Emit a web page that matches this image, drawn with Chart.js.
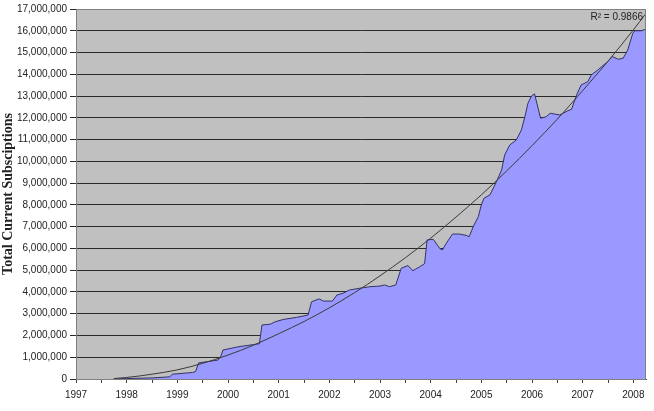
<!DOCTYPE html>
<html>
<head>
<meta charset="utf-8">
<script src="https://cdn.jsdelivr.net/npm/chart.js@4/dist/chart.umd.min.js"></script>
<style>
  html, body { margin: 0; padding: 0; background: #ffffff; }
  canvas { display: block; }
</style>
</head>
<body>
<canvas id="c" width="654" height="411"></canvas>
<script>
// ---- Data ----
const years = [
  1997.74, 1998.0, 1998.5, 1998.85, 1998.9, 1999.3, 1999.36, 1999.42, 1999.6, 1999.8,
  1999.86, 1999.9, 2000.2, 2000.5, 2000.62, 2000.67, 2000.84, 2000.93, 2001.1, 2001.35,
  2001.58, 2001.65, 2001.8, 2001.88, 2002.06, 2002.15, 2002.27, 2002.4, 2002.6, 2002.8,
  2003.0, 2003.09, 2003.19, 2003.31, 2003.42, 2003.55, 2003.65, 2003.78, 2003.88, 2003.93,
  2004.05, 2004.18, 2004.23, 2004.31, 2004.43, 2004.57, 2004.7, 2004.76, 2004.84, 2004.94,
  2005.0, 2005.05, 2005.17, 2005.3, 2005.4, 2005.46, 2005.56, 2005.69, 2005.79, 2005.86,
  2005.92, 2005.99, 2006.05, 2006.17, 2006.28, 2006.36, 2006.55, 2006.71, 2006.78, 2006.88,
  2006.97, 2007.1, 2007.17, 2007.3, 2007.47, 2007.59, 2007.7, 2007.8, 2007.89, 2007.99,
  2008.03, 2008.16, 2008.24
];
const subscriptions = [
  0, 20000, 50000, 100000, 220000, 300000, 340000, 740000, 800000, 870000,
  1050000, 1330000, 1480000, 1580000, 1620000, 2480000, 2520000, 2630000, 2740000, 2830000,
  2940000, 3550000, 3680000, 3580000, 3580000, 3860000, 3940000, 4090000, 4170000, 4240000,
  4270000, 4320000, 4240000, 4320000, 5090000, 5210000, 4980000, 5150000, 5300000, 6390000,
  6420000, 6000000, 5930000, 6240000, 6660000, 6660000, 6600000, 6540000, 7000000, 7460000,
  8000000, 8300000, 8460000, 9070000, 9600000, 10290000, 10750000, 10980000, 11440000, 12050000,
  12670000, 13000000, 13100000, 11980000, 12050000, 12210000, 12130000, 12330000, 12390000, 13050000,
  13510000, 13660000, 13970000, 14200000, 14540000, 14810000, 14690000, 14740000, 15120000, 15890000,
  16000000, 16000000, 16070000
];
// Trendline (R² = 0.9866)
const trendYears = [
  1997.75, 1998.0, 1998.5, 1999.0, 1999.5, 2000.0, 2000.5, 2001.0, 2001.5, 2002.0,
  2002.5, 2003.0, 2003.5, 2004.0, 2004.5, 2005.0, 2005.5, 2006.0, 2006.5, 2007.0,
  2007.5, 2008.0, 2008.25
];
const trendValues = [
  20000, 70000, 220000, 420000, 720000, 1100000, 1550000, 2080000, 2640000, 3270000,
  3970000, 4740000, 5570000, 6470000, 7440000, 8460000, 9560000, 10720000, 11940000, 13250000,
  14600000, 16040000, 16800000
];
const trendLabel = 'R\u00B2 = 0.9866';
const xTickValues = [
  1997, 1997.5, 1998, 1998.5, 1999, 1999.5, 2000, 2000.5, 2001, 2001.5, 2002, 2002.5,
  2003, 2003.5, 2004, 2004.5, 2005, 2005.5, 2006, 2006.5, 2007, 2007.5, 2008
];
const yAxisTitle = 'Total Current Subsciptions';

// ---- Build datasets ----
const subsPoints = years.map((x, i) => ({ x: x, y: subscriptions[i] }));
const trendPoints = trendYears.map((x, i) => ({ x: x, y: trendValues[i] }));

const plotBg = {
  id: 'plotBg',
  beforeDraw(chart) {
    const { ctx, chartArea: a } = chart;
    ctx.save();
    ctx.fillStyle = '#ffffff';
    ctx.fillRect(0, 0, chart.width, chart.height);
    ctx.fillStyle = '#C0C0C0';
    ctx.fillRect(a.left, a.top, a.right - a.left, a.bottom - a.top);
    ctx.restore();
  },
  afterDraw(chart) {
    const { ctx, chartArea: a } = chart;
    ctx.save();
    ctx.strokeStyle = '#808080';
    ctx.lineWidth = 1;
    ctx.strokeRect(a.left + 0.5, a.top + 0.5, a.right - a.left - 1, a.bottom - a.top);
    ctx.fillStyle = '#222222';
    ctx.font = '10px "Liberation Sans", Arial, sans-serif';
    ctx.textAlign = 'right';
    ctx.textBaseline = 'middle';
    ctx.fillText(trendLabel, a.right - 3, a.top + 8);
    ctx.restore();
  }
};

new Chart(document.getElementById('c'), {
  type: 'line',
  data: {
    datasets: [
      {
        label: 'Trend',
        data: trendPoints,
        borderColor: '#3a3a3a',
        borderWidth: 1,
        pointRadius: 0,
        fill: false,
        cubicInterpolationMode: 'monotone'
      },
      {
        label: 'Subscriptions',
        data: subsPoints,
        borderColor: '#333366',
        borderWidth: 1,
        backgroundColor: '#9999FF',
        pointRadius: 0,
        fill: 'origin',
        tension: 0
      }
    ]
  },
  options: {
    responsive: false,
    animation: false,
    devicePixelRatio: 1,
    layout: { padding: { top: 9, right: 8, bottom: 0, left: 0 } },
    plugins: {
      legend: { display: false },
      tooltip: { enabled: false }
    },
    scales: {
      x: {
        type: 'linear',
        min: 1997,
        max: 2008.25,
        afterBuildTicks: (s) => { s.ticks = xTickValues.map(v => ({ value: v })); },
        afterFit: (s) => { s.height = 32; },
        ticks: {
          autoSkip: false,
          maxRotation: 0,
          padding: 6,
          color: '#222222',
          font: { family: '"Liberation Sans", Arial, sans-serif', size: 10 },
          callback: (v) => Number.isInteger(v) ? String(v) : ''
        },
        grid: { drawOnChartArea: false, drawTicks: true, tickLength: 4, color: '#444444' },
        border: { color: '#444444' }
      },
      y: {
        min: 0,
        max: 17000000,
        afterFit: (s) => { s.width = 76; },
        ticks: {
          stepSize: 1000000,
          padding: 3,
          color: '#222222',
          font: { family: '"Liberation Sans", Arial, sans-serif', size: 10 },
          callback: (v) => v.toLocaleString('en-US')
        },
        grid: { color: '#2a2a2a', tickLength: 6 },
        border: { color: '#444444' },
        title: {
          display: true,
          text: yAxisTitle,
          color: '#222222',
          padding: { top: 0, bottom: 0 },
          font: { family: '"Liberation Serif", "Times New Roman", serif', size: 14, weight: 'bold' }
        }
      }
    }
  },
  plugins: [plotBg]
});
</script>
</body>
</html>
